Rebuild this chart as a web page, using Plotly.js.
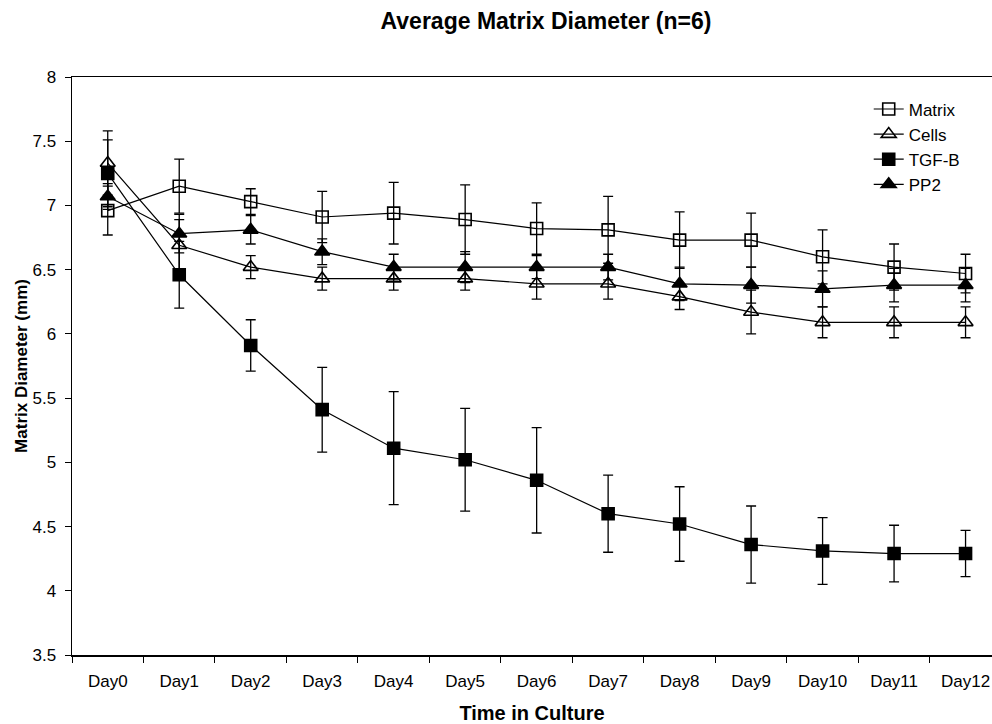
<!DOCTYPE html>
<html>
<head>
<meta charset="utf-8">
<script src="https://cdn.plot.ly/plotly-3.0.1.min.js"></script>
<style>html,body{margin:0;padding:0;background:#fff;}#chart{width:992px;height:724px;}</style>
</head>
<body>
<div id="chart"></div>
<script>
const days = ["Day0","Day1","Day2","Day3","Day4","Day5","Day6","Day7","Day8","Day9","Day10","Day11","Day12"];

const matrixVals = [6.96, 7.15, 7.03, 6.91, 6.94, 6.89, 6.82, 6.81, 6.73, 6.73, 6.60, 6.52, 6.47];
const matrixErr  = [0.19, 0.21, 0.10, 0.20, 0.24, 0.27, 0.20, 0.26, 0.22, 0.21, 0.21, 0.18, 0.15];

const cellsVals = [7.33, 6.69, 6.52, 6.43, 6.43, 6.43, 6.39, 6.39, 6.29, 6.17, 6.09, 6.09, 6.09];
const cellsErr  = [0.25, 0.20, 0.09, 0.09, 0.09, 0.09, 0.12, 0.12, 0.10, 0.17, 0.12, 0.12, 0.12];

const tgfVals = [7.25, 6.46, 5.91, 5.41, 5.11, 5.02, 4.86, 4.60, 4.52, 4.36, 4.31, 4.29, 4.29];
const tgfErr  = [0.26, 0.26, 0.20, 0.33, 0.44, 0.40, 0.41, 0.30, 0.29, 0.30, 0.26, 0.22, 0.18];

const pp2Vals = [7.07, 6.78, 6.81, 6.64, 6.52, 6.52, 6.52, 6.52, 6.39, 6.38, 6.35, 6.38, 6.38];
const pp2Err  = [0.10, 0.15, 0.11, 0.10, 0.10, 0.12, 0.09, 0.10, 0.13, 0.14, 0.14, 0.13, 0.13];

function mk(name, y, err, symbol, size) {
  return {
    type: "scatter", mode: "lines+markers", name: name,
    x: days, y: y,
    error_y: {type: "data", array: err, visible: true, color: "#000", thickness: 1.3, width: 5},
    line: {color: "#000", width: 1.2},
    marker: {symbol: symbol, size: size, color: "#000", line: {color: "#000", width: 1.6}}
  };
}

const traces = [
  mk("Matrix", matrixVals, matrixErr, "square-open", 12),
  mk("Cells", cellsVals, cellsErr, "triangle-up-open", 13),
  mk("TGF-B", tgfVals, tgfErr, "square", 12),
  mk("PP2", pp2Vals, pp2Err, "triangle-up", 13)
];

const F = "Arial, 'Liberation Sans', sans-serif";
const layout = {
  width: 992, height: 724,
  paper_bgcolor: "#fff", plot_bgcolor: "#fff",
  margin: {l: 72, r: 0, t: 77, b: 69},
  font: {family: F, size: 15, color: "#000"},
  title: {text: "<b>Average Matrix Diameter (n=6)</b>", font: {family: F, size: 23, color: "#000"},
          x: 546/992, xref: "container", xanchor: "center", y: 1 - 21/724, yref: "container", yanchor: "middle"},
  showlegend: true,
  legend: {x: 0.866, y: 0.975, xanchor: "left", yanchor: "top", bgcolor: "rgba(0,0,0,0)",
           font: {family: F, size: 17, color: "#000"}, tracegroupgap: 0, itemwidth: 30},
  xaxis: {
    type: "category", range: [-0.5, 12.37],
    showline: true, linecolor: "#000", linewidth: 1.5, mirror: true,
    ticks: "outside", tickson: "boundaries", ticklen: 6, tickcolor: "#000",
    ticklabelstandoff: 10,
    showgrid: false, zeroline: false,
    tickfont: {family: F, size: 17, color: "#000"},
    title: {text: "<b>Time in Culture</b>", font: {family: F, size: 20, color: "#000"}, standoff: 16}
  },
  yaxis: {
    range: [3.5, 8], dtick: 0.5, tick0: 3.5,
    showline: true, linecolor: "#000", linewidth: 1.5,
    ticks: "outside", ticklen: 6, tickcolor: "#000",
    ticklabelstandoff: 5,
    showgrid: false, zeroline: false,
    tickfont: {family: F, size: 17, color: "#000"},
    title: {text: "<b>Matrix Diameter (mm)</b>", font: {family: F, size: 17, color: "#000"}, standoff: 0}
  }
};

Plotly.newPlot("chart", traces, layout, {displayModeBar: false, staticPlot: true});
</script>
</body>
</html>
